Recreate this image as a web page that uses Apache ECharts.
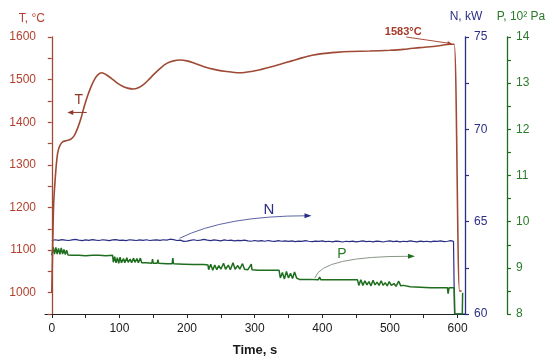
<!DOCTYPE html>
<html><head><meta charset="utf-8">
<script src="https://cdn.jsdelivr.net/npm/echarts@6/dist/echarts.min.js"></script>
<style>html,body{margin:0;padding:0;background:#fff}#c{width:550px;height:362px}</style>
</head><body><div id="c"></div><script>
// ---- data ----
const timeT = [0,1,2,3,5,7,9,12,16,22,28,33,38,43,48,53,58,63,68,74,80,88,96,104,112,120,128,136,144,152,160,170,180,190,200,212,224,240,258,278,295,310,325,340,355,370,385,400,420,441,470,500,520,544,570,590,595,603,606];
const tempT = [1000,1080,1160,1215,1265,1305,1330,1345,1354,1357,1360,1368,1385,1408,1437,1462,1483,1500,1511,1516,1512,1503,1493,1485,1480,1478,1481,1489,1501,1514,1526,1538,1544,1546,1544,1538,1531,1524,1519,1516,1519,1524,1530,1537,1544,1551,1557,1561,1564,1566,1567,1569,1571,1575,1579,1583,1583,1004,1004];

const timeN = [0,5,10,15,20,25,30,35,40,45,50,55,60,65,70,75,80,85,90,95,100,105,110,115,120,125,130,135,140,145,150,155,160,165,170,175,180,185,190,195,200,205,210,215,220,225,230,235,240,245,250,255,260,265,270,275,280,285,290,295,300,305,310,315,320,325,330,335,340,345,350,355,360,365,370,375,380,385,390,395,400,405,410,415,420,425,430,435,440,445,450,455,460,465,470,475,480,485,490,495,500,505,510,515,520,525,530,535,540,545,550,555,560,565,570,575,580,585,590,594,595.5,611];
const powerN = [63.98,64.02,63.99,64.03,64.00,63.98,64.01,64.04,64.00,63.97,64.01,63.99,64.03,64.00,63.98,64.02,64.00,63.97,64.01,64.03,63.99,64.00,63.97,64.02,64.00,63.98,64.01,63.99,64.02,63.98,64.00,64.01,63.99,64.02,64.00,64.05,64.03,63.98,64.00,63.93,63.95,63.99,64.02,63.98,64.00,64.04,64.00,63.97,64.01,63.99,63.96,64.01,63.98,64.00,63.96,63.99,63.97,64.00,63.96,63.94,63.98,63.95,63.97,63.94,63.98,63.95,63.93,63.97,63.94,63.96,63.93,63.96,63.92,63.95,63.93,63.97,63.94,63.92,63.95,63.93,63.96,63.92,63.94,63.91,63.95,63.93,63.90,63.94,63.92,63.95,63.91,63.93,63.96,63.92,63.94,63.91,63.95,63.93,63.90,63.94,63.96,63.92,63.95,63.91,63.94,63.92,63.96,63.93,63.91,63.95,63.92,63.94,63.91,63.95,63.93,63.96,63.92,63.94,63.97,63.93,60.0,60.0];

const timeP = [0,2,4,6,8,10,12,14,16,18,20,22,24,30,40,50,60,70,80,90,91,93,95,97,99,101,103,106,108,111,113,116,118,121,123,126,128,131,133,140,148,149,150,156,157,158,170,178,179,180,195,210,225,231,232,235,238,241,244,247,250,254,257,261,264,268,271,275,278,282,285,290,295,296,305,320,336,338,341,344,347,350,353,356,359,362,366,380,394,396,398,420,440,452,454,457,460,463,466,469,472,475,478,481,484,487,490,493,496,499,502,506,509,513,516,520,530,545,560,575,585,586,587.5,595,596,607,607.5];
const presP = [9.27,9.45,9.30,9.44,9.30,9.42,9.29,9.43,9.30,9.40,9.29,9.38,9.28,9.27,9.27,9.26,9.27,9.27,9.26,9.27,9.12,9.24,9.11,9.22,9.10,9.23,9.11,9.20,9.11,9.22,9.12,9.19,9.11,9.21,9.12,9.20,9.11,9.21,9.11,9.11,9.10,9.19,9.10,9.10,9.18,9.10,9.09,9.09,9.21,9.09,9.08,9.07,9.07,9.06,8.96,9.08,8.95,9.06,8.96,9.05,8.97,9.10,8.97,9.06,8.96,9.11,8.97,9.05,8.97,9.09,8.97,8.96,9.08,8.96,8.95,8.95,8.95,8.78,8.90,8.76,8.92,8.78,8.88,8.77,8.91,8.78,8.75,8.75,8.74,8.80,8.74,8.74,8.74,8.74,8.62,8.74,8.62,8.72,8.63,8.70,8.61,8.73,8.63,8.69,8.62,8.72,8.62,8.68,8.61,8.70,8.62,8.66,8.60,8.71,8.61,8.62,8.59,8.58,8.57,8.57,8.57,8.44,8.57,8.57,8.0,8.0,8.46];

const xTicks = [0,50,100,150,200,250,300,350,400,450,500,550,600];
const xLabels = [0,100,200,300,400,500,600];

// annotations in data coordinates
const annT = {text:[40,1451], from:[51.8,1423], to:[23,1423]};
const annN = {text:[321,65.65], start:[189,64.1], ctrl:[256,65.32], end:[384,65.32]};
const annP = {text:[429,9.29], start:[389,8.78], ctrl:[399,9.26], end:[537,9.25]};
const annPeak = {label:'1583°C', text:[492.5,1611], from:[524,1600], to:[591,1584.5]};

const zip = (a,b) => a.map((v,i)=>[v,b[i]]);
const FONT = 'Liberation Sans, Arial, sans-serif';
const TC = '#9E4A35', TTXT = '#B3402E', NC = '#2B2E83', PC = '#1F6E1F', PTXT = '#2A7A2A';

const chart = echarts.init(document.getElementById('c'));
function yAx(pos, offset, min, max, interval, step, color, lineColor){
  return {type:'value', position:pos, offset:offset, min:min, max:max, interval:interval,
    axisLine:{show:true, lineStyle:{color:lineColor, width:1.3}},
    axisTick:{show:true, inside:false, length:4, lineStyle:{color:lineColor, width:1.2}},
    axisLabel:{margin:9, color:color, fontSize:12, fontFamily:FONT,
      formatter:v => (Math.abs(v/step - Math.round(v/step))<1e-6) ? String(Math.round(v)) : ''},
    splitLine:{show:false}};
}
chart.setOption({
  animation:false,
  backgroundColor:'#fff',
  grid:{left:45, right:85, top:37, bottom:44},
  xAxis:{type:'value', min:-10, max:611, name:'Time, s', nameLocation:'middle', nameGap:30,
    nameTextStyle:{fontSize:13, fontWeight:'bold', color:'#1a1a1a', fontFamily:FONT},
    axisLine:{show:true, onZero:false, lineStyle:{color:'#222', width:1.2}},
    axisTick:{show:true, inside:false, length:4, customValues:xTicks, lineStyle:{color:'#222'}},
    axisLabel:{customValues:xLabels, margin:9, fontSize:12, color:'#1a1a1a', fontFamily:FONT},
    splitLine:{show:false}},
  yAxis:[
    yAx('left',0,950,1600,50,100,TTXT,TC),
    yAx('right',0,60,75,2.5,5,NC,NC),
    yAx('right',42,8,14,0.5,1,PTXT,PC)
  ],
  series:[
    {type:'line', yAxisIndex:1, data:zip(timeN,powerN), showSymbol:false, symbol:'none', lineStyle:{color:NC, width:1.2}, clip:true},
    {type:'line', yAxisIndex:2, data:zip(timeP,presP), showSymbol:false, symbol:'none', lineStyle:{color:PC, width:1.5}, clip:true},
    {type:'line', yAxisIndex:0, data:zip(timeT,tempT), showSymbol:false, symbol:'none', smooth:0.3, lineStyle:{color:TC, width:1.6}, clip:true}
  ]
});

function px(yi, p){ return chart.convertToPixel({xAxisIndex:0, yAxisIndex:yi}, p); }
function head(tip, from, color, len, w){
  const dx = tip[0]-from[0], dy = tip[1]-from[1], L = Math.hypot(dx,dy)||1;
  const ux = dx/L, uy = dy/L, bx = tip[0]-ux*len, by = tip[1]-uy*len;
  return {type:'polygon', shape:{points:[[tip[0],tip[1]],[bx-uy*w,by+ux*w],[bx+uy*w,by-ux*w]]}, style:{fill:color}, z:10};
}
const g = [];
{ const t = px(0,annT.text), a = px(0,annT.from), b = px(0,annT.to);
  g.push({type:'text', x:t[0], y:t[1], style:{text:'T', fill:'#8E3A28', font:'14px '+FONT, align:'center', verticalAlign:'middle'}, z:10});
  g.push({type:'line', shape:{x1:a[0],y1:a[1],x2:b[0]+4,y2:b[1]}, style:{stroke:'#8E3A28', lineWidth:1}, z:10});
  g.push(head(b,a,'#8E3A28',6,2.5)); }
{ const t = px(1,annN.text), s = px(1,annN.start), c = px(1,annN.ctrl), e = px(1,annN.end);
  g.push({type:'text', x:t[0], y:t[1], style:{text:'N', fill:NC, font:'15px '+FONT, align:'center', verticalAlign:'middle'}, z:10});
  g.push({type:'bezierCurve', shape:{x1:s[0],y1:s[1],cpx1:c[0],cpy1:c[1],x2:e[0]-4,y2:e[1]}, style:{stroke:'#5B64A3', lineWidth:1, fill:null}, z:10});
  g.push(head(e,c,NC,7,2.6)); }
{ const t = px(2,annP.text), s = px(2,annP.start), c = px(2,annP.ctrl), e = px(2,annP.end);
  g.push({type:'text', x:t[0], y:t[1], style:{text:'P', fill:PTXT, font:'14px '+FONT, align:'center', verticalAlign:'middle'}, z:10});
  g.push({type:'bezierCurve', shape:{x1:s[0],y1:s[1],cpx1:c[0],cpy1:c[1],x2:e[0]-4,y2:e[1]}, style:{stroke:'#8A968A', lineWidth:1, fill:null}, z:10});
  g.push(head(e,c,PC,7,2.6)); }
{ const t = px(0,annPeak.text), a = px(0,annPeak.from), b = px(0,annPeak.to);
  g.push({type:'text', x:t[0], y:t[1], style:{text:annPeak.label, fill:'#A63A2A', font:'bold 11px '+FONT, align:'left', verticalAlign:'middle'}, z:10});
  g.push({type:'line', shape:{x1:a[0],y1:a[1],x2:b[0],y2:b[1]}, style:{stroke:'#A8503C', lineWidth:1}, z:10});
  g.push(head(b,a,'#B0402E',4,2)); }
g.push({type:'text', x:45, y:19, style:{text:'T, °C', fill:TTXT, font:'12px '+FONT, align:'right', verticalAlign:'middle'}});
g.push({type:'text', x:466, y:17, style:{text:'N, kW', fill:NC, font:'12px '+FONT, align:'center', verticalAlign:'middle'}});
g.push({type:'text', x:521, y:17, style:{text:'P, 10² Pa', fill:PTXT, font:'12px '+FONT, align:'center', verticalAlign:'middle'}});
chart.setOption({graphic:g});
</script></body></html>
